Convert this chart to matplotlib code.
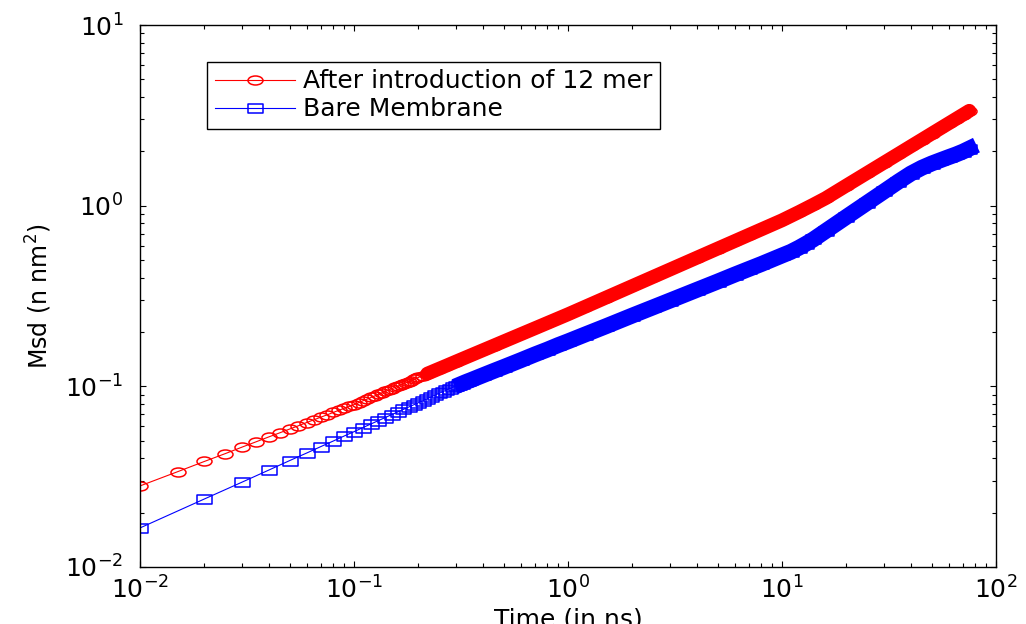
import matplotlib
matplotlib.use("Agg")
import matplotlib.pyplot as plt
import numpy as np
from matplotlib.path import Path
from matplotlib.ticker import LogLocator, NullFormatter, LogFormatterMathtext

# ---------------- data ----------------
series_labels = ["After introduction of 12 mer", "Bare Membrane"]
series_colors = ["#ff0000", "#0000ff"]

time_12mer = [0.010, 0.015, 0.020, 0.025, 0.030, 0.035, 0.040, 0.045, 0.050, 0.055,
              0.060, 0.065, 0.070, 0.075, 0.080, 0.085, 0.090, 0.095, 0.100, 0.105,
              0.110, 0.115, 0.120, 0.125, 0.130, 0.135, 0.140, 0.145, 0.150, 0.155,
              0.160, 0.165, 0.170, 0.175, 0.180, 0.185, 0.190, 0.195, 0.200,
              0.21, 0.22, 0.23, 0.24, 0.25, 0.27, 0.30, 0.35, 0.40, 0.45, 0.50,
              0.60, 0.70, 0.80, 0.90, 1.0, 1.2, 1.5, 2.0, 2.5, 3.0, 4.0, 5.0, 6.0,
              7.0, 8.0, 10.0, 12.0, 14.0, 16.0, 20.0, 25.0, 30.0, 35.0, 40.0, 45.0,
              50.0, 55.0, 60.0, 65.0, 70.0, 75.0]
msd_12mer = [0.0281, 0.0337, 0.0384, 0.0424, 0.0461, 0.0494, 0.0525, 0.0553, 0.0580, 0.0605,
             0.0630, 0.0653, 0.0675, 0.0696, 0.0717, 0.0737, 0.0756, 0.0774, 0.0792, 0.0812,
             0.0831, 0.0849, 0.0868, 0.0885, 0.0903, 0.0920, 0.0937, 0.0954, 0.0970, 0.0986,
             0.1002, 0.1017, 0.1033, 0.1048, 0.1063, 0.1077, 0.1092, 0.1106, 0.1120,
             0.1148, 0.1175, 0.1201, 0.1227, 0.1252, 0.1301, 0.1372, 0.1482, 0.1584, 0.1680, 0.1771,
             0.1940, 0.2095, 0.2240, 0.2376, 0.2505, 0.2754, 0.3093, 0.3592, 0.4034, 0.4435, 0.5151, 0.5785, 0.6360,
             0.6891, 0.7386, 0.8295, 0.922, 1.012, 1.100, 1.293, 1.518, 1.731, 1.934, 2.130, 2.318,
             2.501, 2.679, 2.852, 3.021, 3.186, 3.349]

time_bare = [0.01, 0.02, 0.03, 0.04, 0.05, 0.06, 0.07, 0.08, 0.09, 0.10,
             0.11, 0.12, 0.13, 0.14, 0.15, 0.16, 0.17, 0.18, 0.19, 0.20,
             0.21, 0.22, 0.23, 0.24, 0.25, 0.26, 0.27, 0.28, 0.29, 0.30,
             0.31, 0.32, 0.33, 0.34, 0.35, 0.40, 0.45, 0.50, 0.60, 0.70, 0.80, 0.90,
             1.0, 1.2, 1.5, 2.0, 2.5, 3.0, 4.0, 5.0, 6.0, 7.0, 8.0, 10.0, 11.0, 12.0, 13.0, 14.0,
             16.0, 20.0, 25.0, 30.0, 35.0, 40.0, 45.0, 50.0, 55.0, 60.0, 65.0, 70.0, 75.0]
msd_bare = [0.01645, 0.0238, 0.0295, 0.0344, 0.0388, 0.0427, 0.0464, 0.0498, 0.0531, 0.0561,
            0.0591, 0.0619, 0.0646, 0.0672, 0.0697, 0.0721, 0.0745, 0.0768, 0.0790, 0.0812,
            0.0833, 0.0854, 0.0875, 0.0895, 0.0915, 0.0934, 0.0953, 0.0972, 0.0988, 0.1004,
            0.1020, 0.1035, 0.1051, 0.1066, 0.1080, 0.1151, 0.1217, 0.1278, 0.1393, 0.1501, 0.1596, 0.1691,
            0.1774, 0.1934, 0.2148, 0.2466, 0.2739, 0.2985, 0.342, 0.380, 0.415, 0.4462, 0.475, 0.530,
            0.555, 0.585, 0.617, 0.650,
            0.724, 0.867, 1.037, 1.200, 1.359, 1.505, 1.620, 1.710, 1.785, 1.855, 1.920, 1.990, 2.070]

x_label = "Time (in ns)"
y_label = "Msd (n nm$^2$)"

# ---------------- style ----------------
plt.rcParams['font.family'] = ['DejaVu Sans']
plt.rcParams['mathtext.fontset'] = 'dejavusans'

W, H = 1026, 624
fig = plt.figure(figsize=(W / 100, H / 100), dpi=100)
fig.patch.set_facecolor('white')
ax = fig.add_axes([140 / W, (H - 567) / H, 856 / W, 542 / H])
ax.set_xscale('log')
ax.set_yscale('log')
ax.set_xlim(1e-2, 1e2)
ax.set_ylim(1e-2, 1e1)

# the original picture is stretched horizontally: use flattened markers
circ = Path.unit_circle()
ellipse_marker = Path(circ.vertices * np.array([1.0, 0.6]), circ.codes)
rect_marker = Path([(-1, -0.6), (1, -0.6), (1, 0.6), (-1, 0.6), (-1, -0.6)],
                   [Path.MOVETO, Path.LINETO, Path.LINETO, Path.LINETO, Path.CLOSEPOLY])

t_r, m_r = np.array(time_12mer), np.array(msd_12mer)
t_b, m_b = np.array(time_bare), np.array(msd_bare)

ax.plot(t_r, m_r, color=series_colors[0], lw=0.8, marker=ellipse_marker, ms=10.8,
        mfc='none', mec=series_colors[0], mew=1.1, label=series_labels[0])
ax.plot(t_b, m_b, color=series_colors[1], lw=0.8, marker=rect_marker, ms=10.8,
        mfc='none', mec=series_colors[1], mew=1.1, label=series_labels[1])

# densely overlapping markers appear as a solid band
sel_r = t_r >= 0.22
ax.plot(t_r[sel_r], m_r[sel_r], color=series_colors[0], lw=10.0,
        solid_capstyle='round', solid_joinstyle='round')
sel_b = t_b >= 0.32
ax.plot(t_b[sel_b], m_b[sel_b], color=series_colors[1], lw=11.5,
        solid_capstyle='projecting', solid_joinstyle='round')

# ticks
ax.xaxis.set_major_locator(LogLocator(base=10, numticks=10))
ax.yaxis.set_major_locator(LogLocator(base=10, numticks=10))
ax.xaxis.set_minor_locator(LogLocator(base=10, subs=np.arange(2, 10), numticks=20))
ax.yaxis.set_minor_locator(LogLocator(base=10, subs=np.arange(2, 10), numticks=20))
ax.xaxis.set_major_formatter(LogFormatterMathtext())
ax.yaxis.set_major_formatter(LogFormatterMathtext())
ax.xaxis.set_minor_formatter(NullFormatter())
ax.yaxis.set_minor_formatter(NullFormatter())
ax.tick_params(which='both', direction='in', top=True, right=True, colors='black', width=0.8)
ax.tick_params(which='major', length=4.5)
ax.tick_params(which='minor', length=3.0)
ax.tick_params(axis='x', which='major', labelsize=18, pad=7)
ax.tick_params(axis='y', which='major', labelsize=18, pad=12)
for sp in ax.spines.values():
    sp.set_linewidth(1.0)
    sp.set_color('black')

ax.set_xlabel(x_label, fontsize=18)
ax.xaxis.set_label_coords(0.5, -0.074)
ax.set_ylabel(y_label, fontsize=17)
ax.yaxis.set_label_coords(-0.100, 0.5)

leg = ax.legend(loc='upper left', bbox_to_anchor=(207 / W, 1 - 62 / H),
                bbox_transform=fig.transFigure, fontsize=18, frameon=True,
                fancybox=False, shadow=False, edgecolor='black', framealpha=1.0,
                borderpad=0.3, labelspacing=0.15, handlelength=3.2,
                handletextpad=0.35, numpoints=1, borderaxespad=0.0)
leg.get_frame().set_linewidth(1.0)

fig.savefig('out.png', dpi=100, facecolor='white')
